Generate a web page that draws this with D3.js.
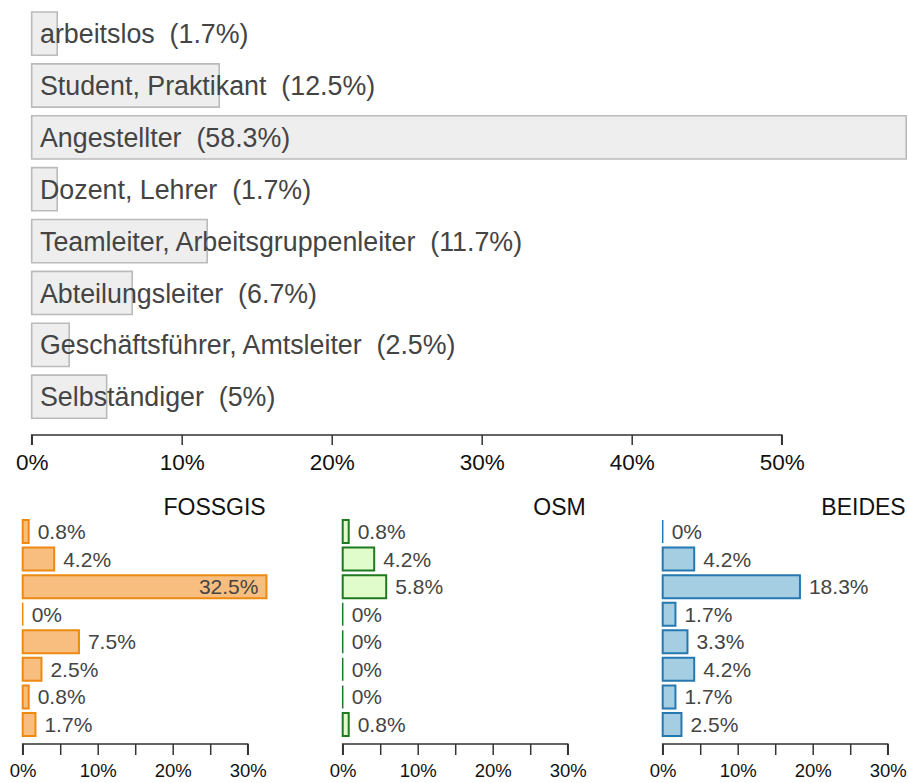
<!DOCTYPE html>
<html>
<head>
<meta charset="utf-8">
<script src="https://d3js.org/d3.v7.min.js"></script>
<style>
  body { margin: 0; background: #fff; }
  svg { font-family: "Liberation Sans", Arial, sans-serif; }
</style>
</head>
<body>
<div id="chart"></div>
<script>
var width = 908;
var height = 783;

// categories (top to bottom)
var categories = ["arbeitslos", "Student, Praktikant", "Angestellter", "Dozent, Lehrer",
  "Teamleiter, Arbeitsgruppenleiter", "Abteilungsleiter", "Geschäftsführer, Amtsleiter", "Selbständiger"];
// overall share in %
var totalValues = [1.7, 12.5, 58.3, 1.7, 11.7, 6.7, 2.5, 5];
// share per group in %
var fossgisValues = [0.8, 4.2, 32.5, 0, 7.5, 2.5, 0.8, 1.7];
var osmValues = [0.8, 4.2, 5.8, 0, 0, 0, 0, 0.8];
var beidesValues = [0, 4.2, 18.3, 1.7, 3.3, 4.2, 1.7, 2.5];
var topTicks = [0, 10, 20, 30, 40, 50];
var smallTicks = [0, 5, 10, 15, 20, 25, 30];
var smallTickLabels = [0, 10, 20, 30];

var groups = [
  {name: "FOSSGIS", values: fossgisValues, fill: "#F7BE7F", stroke: "#EE8A12", x0: 22.7},
  {name: "OSM", values: osmValues, fill: "#E0FCCB", stroke: "#1E7A1E", x0: 342.7},
  {name: "BEIDES", values: beidesValues, fill: "#A6CEE3", stroke: "#2479B2", x0: 662.7}
];

var svg = d3.select("#chart").append("svg")
  .attr("width", width)
  .attr("height", height);

svg.append("rect").attr("width", width).attr("height", height).attr("fill", "white");

function barPath(x0, x1, y, h) {
  return "M" + x0 + "," + y + "H" + x1 + "V" + (y + h) + "H" + x0 + "Z";
}

// ---- top chart
var xTop = d3.scaleLinear().domain([0, 50]).range([31.7, 781.7]);
var yTop = d3.scaleBand().domain(categories).range([7.7, 422.6])
  .paddingInner(0.167).paddingOuter(0.083);

var topG = svg.append("g");
topG.selectAll("path.bar")
  .data(categories)
  .enter().append("path")
  .attr("class", "bar")
  .attr("d", function(d, i) { return barPath(xTop(0), xTop(totalValues[i]), yTop(d), yTop.bandwidth()); })
  .attr("fill", "#EEEEEE")
  .attr("stroke", "#BBBBBB")
  .attr("stroke-width", 1.6);

topG.selectAll("text.lab")
  .data(categories)
  .enter().append("text")
  .attr("class", "lab")
  .attr("x", xTop(0) + 8.3)
  .attr("y", function(d) { return yTop(d) + yTop.bandwidth() / 2; })
  .attr("dy", "0.36em")
  .attr("font-size", 26.8)
  .attr("fill", "#444")
  .style("white-space", "pre")
  .text(function(d, i) { return d + "  (" + totalValues[i] + "%)"; });

var topAxis = svg.append("g")
  .attr("transform", "translate(0,435)")
  .call(d3.axisBottom(xTop).tickValues(topTicks).tickSize(10).tickPadding(9)
    .tickFormat(function(d) { return d + "%"; }));
topAxis.select(".domain").attr("stroke", "#333").attr("stroke-width", 1.5)
  .attr("d", "M" + xTop(0) + ",10V0H" + xTop(50) + "V10");
topAxis.selectAll(".tick line").attr("stroke", "#333").attr("stroke-width", 1.5);
topAxis.selectAll(".tick text").attr("font-size", 22.5).attr("fill", "#111")
  .attr("font-family", "Liberation Sans, Arial, sans-serif");

// ---- small multiples
var ySmall = d3.scaleBand().domain(categories).range([517.7, 738.3])
  .paddingInner(0.166).paddingOuter(0.083);

groups.forEach(function(grp) {
  var x = d3.scaleLinear().domain([0, 30]).range([grp.x0, grp.x0 + 225]);
  var g = svg.append("g");
  var plotRight = x(32.4);

  g.append("text")
    .attr("x", plotRight)
    .attr("y", 515)
    .attr("text-anchor", "end")
    .attr("font-size", 23)
    .attr("fill", "#111")
    .text(grp.name);

  g.selectAll("path.bar")
    .data(categories)
    .enter().append("path")
    .attr("class", "bar")
    .attr("d", function(d, i) { return barPath(x(0), x(grp.values[i]), ySmall(d), ySmall.bandwidth()); })
    .attr("fill", grp.fill)
    .attr("stroke", grp.stroke)
    .attr("stroke-width", function(d, i) { return grp.values[i] === 0 ? 1.5 : 2; });

  g.selectAll("text.val")
    .data(categories)
    .enter().append("text")
    .attr("class", "val")
    .attr("y", function(d) { return ySmall(d) + ySmall.bandwidth() / 2; })
    .attr("dy", "0.36em")
    .attr("font-size", 21)
    .attr("fill", "#444")
    .text(function(d, i) { return grp.values[i] + "%"; })
    .each(function(d, i) {
      var t = d3.select(this);
      var w = this.getComputedTextLength();
      var end = x(grp.values[i]);
      if (end + 9 + w > plotRight + 2) {
        t.attr("x", end - 8).attr("text-anchor", "end");
      } else {
        t.attr("x", end + 9);
      }
    });

  var ax = svg.append("g")
    .attr("transform", "translate(0,744)")
    .call(d3.axisBottom(x).tickValues(smallTicks).tickSize(11).tickPadding(9)
      .tickFormat(function(d) { return smallTickLabels.indexOf(d) >= 0 ? d + "%" : ""; }));
  ax.select(".domain").attr("stroke", "#333").attr("stroke-width", 1.5)
    .attr("d", "M" + x(0) + ",11V0H" + x(30) + "V11");
  ax.selectAll(".tick line").attr("stroke", "#333").attr("stroke-width", 1.5);
  ax.selectAll(".tick text").attr("font-size", 18.5).attr("fill", "#111")
    .attr("font-family", "Liberation Sans, Arial, sans-serif");
});
</script>
</body>
</html>
